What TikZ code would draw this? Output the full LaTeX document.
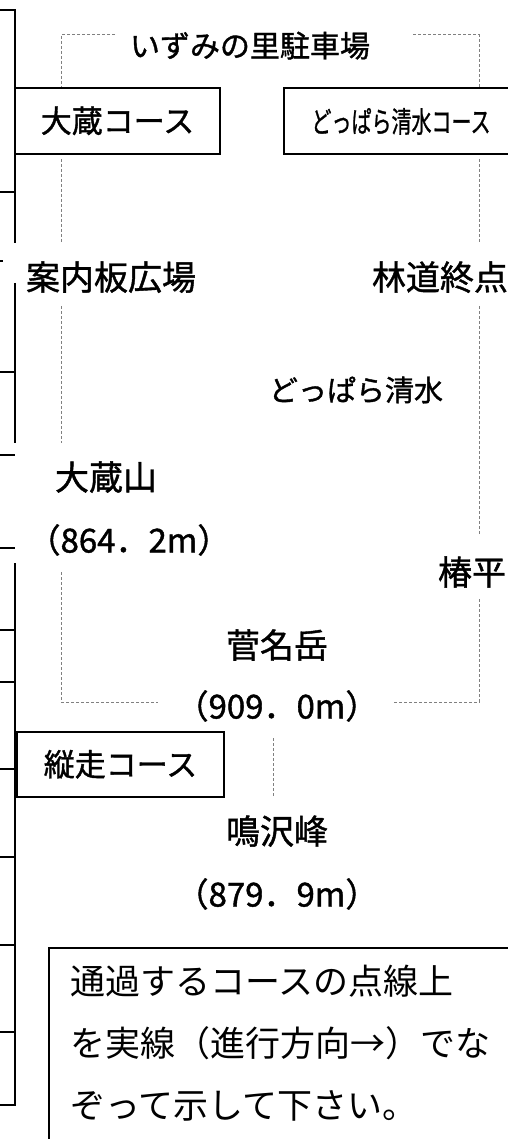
\documentclass[tikz,border=0pt]{standalone}
\usepackage{fontspec}
\usepackage{graphicx}
\usepackage{tikz}
\usetikzlibrary{positioning}
\newfontfamily\jpfont{Noto Sans CJK JP}[FakeBold=1.2]
\newfontfamily\notefont{Noto Sans CJK JP}

\begin{document}
\begin{tikzpicture}[x=1pt,y=-1pt,
  place/.style={font=\jpfont\fontsize{34}{34}\selectfont, inner sep=0pt, text height=30pt, text depth=4pt},
  height/.style={place, font=\jpfont\fontsize{33}{33}\selectfont, text height=29pt, text depth=4pt},
  course/.style={draw, line width=1.6pt, inner sep=0pt, minimum height=66pt, text height=27pt, text depth=4pt, font=\jpfont\fontsize{31}{31}\selectfont},
  route/.style={draw=gray, line width=1pt, dash pattern=on 3pt off 2pt},
  note/.style={font=\notefont\fontsize{35}{35}\selectfont, inner sep=0pt, text height=31pt, text depth=4pt, anchor=west}]
  \useasboundingbox (0,0) rectangle (507,1139);
  \draw[line width=1.5pt] (0,10) -- (15,10) -- (15,243) (15,283) -- (15,443) (15,563) -- (15,1105) -- (0,1105);
  \draw[line width=1.5pt] (0,192) -- (15,192) (0,372) -- (15,372) (0,455) -- (15,455) (0,548) -- (15,548)
    (0,630) -- (15,630) (0,682) -- (15,682) (0,769) -- (15,769) (0,857) -- (15,857) (0,945) -- (15,945)
    (0,1032) -- (15,1032) (0,261) -- (3,261);
  \node[place, font=\jpfont\fontsize{30}{30}\selectfont] (parking) at (250,44) {いずみの里駐車場};
  \node[course, minimum width=205pt] (ookura) at (117.5,121) {大蔵コース};
  \node[course, minimum width=234pt, font=\jpfont\fontsize{29}{29}\selectfont] (doppara) at (401,121) {\scalebox{0.69}[1]{どっぱら清水コース}};
  \node[place] (annai) at (111,277) {案内板広場};
  \node[place] (rindo) at (440,277) {林道終点};
  \node[place, font=\jpfont\fontsize{29}{29}\selectfont] (spring) at (356,388) {どっぱら清水};
  \node[place] (ookurayama) at (106,477) {大蔵山};
  \node[height] (h864) at (129,540) {（864．2m）};
  \node[place] (tsubaki) at (472,572) {椿平};
  \node[place] (sugana) at (277,645) {菅名岳};
  \node[height] (h909) at (277,706) {（909．0m）};
  \node[course, minimum width=207pt, minimum height=65pt] (jusou) at (120.5,764.5) {縦走コース};
  \node[place] (narusawa) at (277,831) {鳴沢峰};
  \node[height] (h879) at (277,894) {（879．9m）};
  \node[draw, line width=2pt, minimum width=490pt, minimum height=250pt, anchor=north west] (frame) at (48,947) {};
  \node[note] (note1) at (70,981) {通過するコースの点線上};
  \node[note] (note2) at (70,1043) {を実線（進行方向→）でな};
  \node[note] (note3) at (70,1105) {ぞって示して下さい。};
  \coordinate (pL) at (115,35);
  \coordinate (pR) at (413,35);
  \coordinate (cLT) at (61,35);
  \coordinate (cRT) at (479,35);
  \coordinate (cLB) at (61,702);
  \coordinate (cRB) at (479,702);
  \coordinate (sL) at (158,702);
  \coordinate (sR) at (393,702);
  \coordinate (cM) at (273,0);
  \draw[route] (pL) -- (cLT) -- (cLT |- ookura.north);
  \draw[route] (pR) -- (cRT) -- (cRT |- doppara.north);
  \draw[route, shorten <=4pt, shorten >=18pt] (cLT |- ookura.south) -- (cLT |- annai.north);
  \draw[route, shorten <=12pt, shorten >=17pt] (cLT |- annai.south) -- (cLT |- ookurayama.north);
  \draw[route, shorten <=15.5pt] (cLT |- h864.south) -- (cLB) -- (sL);
  \draw[route, shorten <=4pt, shorten >=18pt] (cRT |- doppara.south) -- (cRT |- rindo.north);
  \draw[route, shorten <=12pt, shorten >=19pt] (cRT |- rindo.south) -- (cRT |- tsubaki.north);
  \draw[route, shorten <=10pt] (cRT |- tsubaki.south) -- (cRB) -- (sR);
  \draw[route, shorten <=15.5pt, shorten >=17pt] (cM |- h909.south) -- (cM |- narusawa.north);
\end{tikzpicture}
\end{document}
